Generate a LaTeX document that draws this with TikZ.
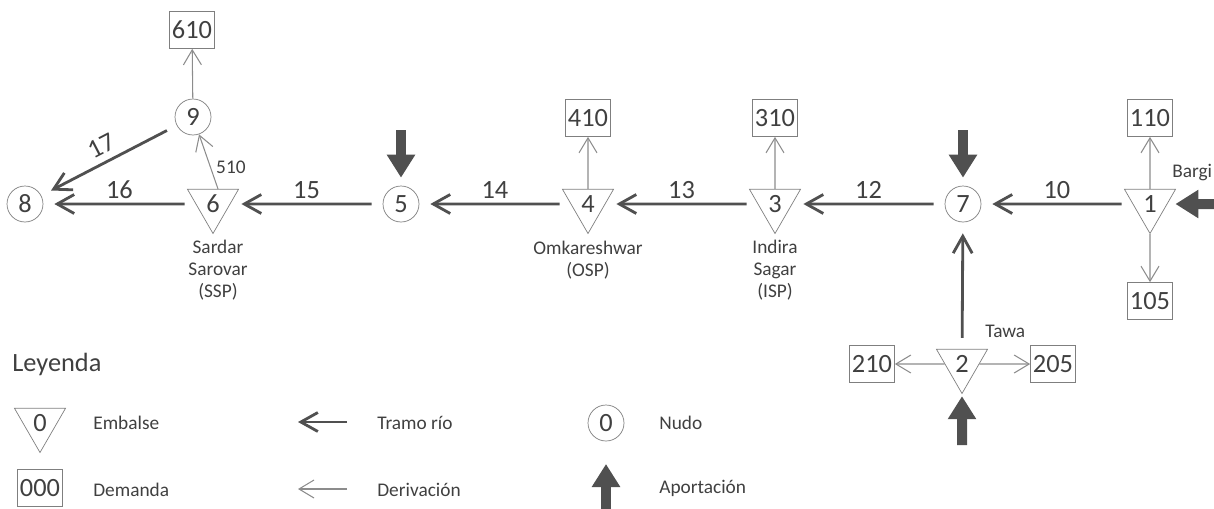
\documentclass[tikz,border=0pt]{standalone}
\usepackage{fontspec}
\setmainfont{Carlito}
\usepackage{xcolor}
\usetikzlibrary{arrows.meta,shapes.geometric}
\definecolor{txt}{HTML}{404040}
\definecolor{borde}{HTML}{7F7F7F}
\definecolor{linea}{HTML}{505050}
\definecolor{deriv}{HTML}{8C8C8C}

\begin{document}
\begin{tikzpicture}[x=0.02cm, y=-0.02cm,
  every node/.style={text=txt},
  emb/.style={draw=borde, regular polygon, regular polygon sides=3, shape border rotate=180, minimum size=1.18cm, inner sep=0pt, font=\fontsize{15}{18}\selectfont},
  nudo/.style={draw=borde, circle, minimum size=0.72cm, inner sep=0pt, font=\fontsize{15}{18}\selectfont},
  dem/.style={draw=borde, minimum width=0.9cm, minimum height=0.74cm, inner sep=1pt, font=\fontsize{15}{18}\selectfont},
  nom/.style={align=center, font=\fontsize{11}{12.5}\selectfont},
  lbl/.style={inner sep=2.5pt, font=\fontsize{15}{18}\selectfont},
  ltx/.style={anchor=base west, inner sep=0pt, font=\fontsize{11}{13}\selectfont},
  rio/.style={draw=linea, line width=1.6pt, -{Straight Barb[length=3.4mm,width=3.8mm]}, shorten <=2.2mm, shorten >=2.2mm},
  der/.style={draw=deriv, line width=0.6pt, -{Straight Barb[length=3mm,width=3.6mm]}},
  apo/.style={draw=linea, line width=2mm, -{Triangle[length=4.6mm,width=5.4mm]}, shorten >=1.6mm}
]
\useasboundingbox (0,0) rectangle (1214,508);

% embalses
\node[emb] (n1) at (1150,204) {1};
\node[emb] (n2) at (962,364) {2};
\node[emb] (n3) at (775,204) {3};
\node[emb] (n4) at (588,204) {4};
\node[emb] (n6) at (213,204) {6};
% nudos
\node[nudo] (n5) at (401,204) {5};
\node[nudo] (n7) at (963,204) {7};
\node[nudo] (n8) at (25,204) {8};
\node[nudo] (n9) at (193,117) {9};
% demandas
\node[dem] (d110) at (1150,118) {110};
\node[dem] (d105) at (1150,301) {105};
\node[dem] (d210) at (872,364) {210};
\node[dem] (d205) at (1053,364) {205};
\node[dem] (d310) at (775,118) {310};
\node[dem] (d410) at (588,118) {410};
\node[dem] (d610) at (192,30) {610};

% nombres
\node[nom] (l6) at (218,270) {Sardar\\Sarovar\\(SSP)};
\node[nom] (l4) at (588,260) {Omkareshwar\\(OSP)};
\node[nom] (l3) at (775,270) {Indira\\Sagar\\(ISP)};
\node[ltx] (l1) at (1172,177) {Bargi};
\node[ltx] (l2) at (985,337) {Tawa};

% tramos de rio
\draw[rio] (n1) -- node[lbl, above] {10} (n7);
\draw[rio] (n7) -- node[lbl, above] {12} (n3);
\draw[rio] (n3) -- node[lbl, above] {13} (n4);
\draw[rio] (n4) -- node[lbl, above] {14} (n5);
\draw[rio] (n5) -- node[lbl, above] {15} (n6);
\draw[rio] (n6) -- node[lbl, above] {16} (n8);
\draw[rio] (n9) -- node[lbl, above, sloped, inner sep=3.5pt] {17} (n8);
\draw[rio] (n2) -- (n7);

% derivaciones
\draw[der] (n1.north) -- (d110);
\draw[der] (n1.south) -- (d105);
\draw[der] (n2.west) -- (d210);
\draw[der] (n2.east) -- (d205);
\draw[der] (n3.north) -- (d310);
\draw[der] (n4.north) -- (d410);
\draw[der] ([xshift=1mm]n6.north) -- node[pos=0.4, right, inner sep=3pt, font=\fontsize{11}{13}\selectfont] {510} (n9);
\draw[der] (n9) -- (d610);

% aportaciones
\coordinate (a1) at (1216,204);
\coordinate (a2) at (962,445);
\coordinate (a5) at (401,130);
\coordinate (a7) at (963,130);
\draw[apo] (a1) -- (n1);
\draw[apo, shorten >=0.4mm] (a2) -- (n2);
\draw[apo] (a5) -- (n5);
\draw[apo] (a7) -- (n7);

% leyenda
\node[anchor=base west, inner sep=0pt, font=\fontsize{15}{18}\selectfont] (ley) at (12,371) {Leyenda};
\node[emb] (le) at (40,423) {0};
\node[ltx] (te) at (93,429) {Embalse};
\node[dem] (ld) at (40,488) {000};
\node[ltx] (td) at (93,496) {Demanda};
\coordinate (r1) at (347,422);
\coordinate (r0) at (298,422);
\draw[rio, shorten <=0pt, shorten >=0pt] (r1) -- (r0);
\node[ltx] (tr) at (377,429) {Tramo río};
\coordinate (v1) at (347,489);
\coordinate (v0) at (298,489);
\draw[der] (v1) -- (v0);
\node[ltx] (tv) at (377,496) {Derivación};
\node[nudo] (ln) at (606,423) {0};
\node[ltx] (tn) at (659,429) {Nudo};
\coordinate (p1) at (606,512);
\coordinate (p0) at (606,464);
\draw[apo, shorten >=0pt] (p1) -- (p0);
\node[ltx] (tp) at (659,493) {Aportación};
\end{tikzpicture}
\end{document}
